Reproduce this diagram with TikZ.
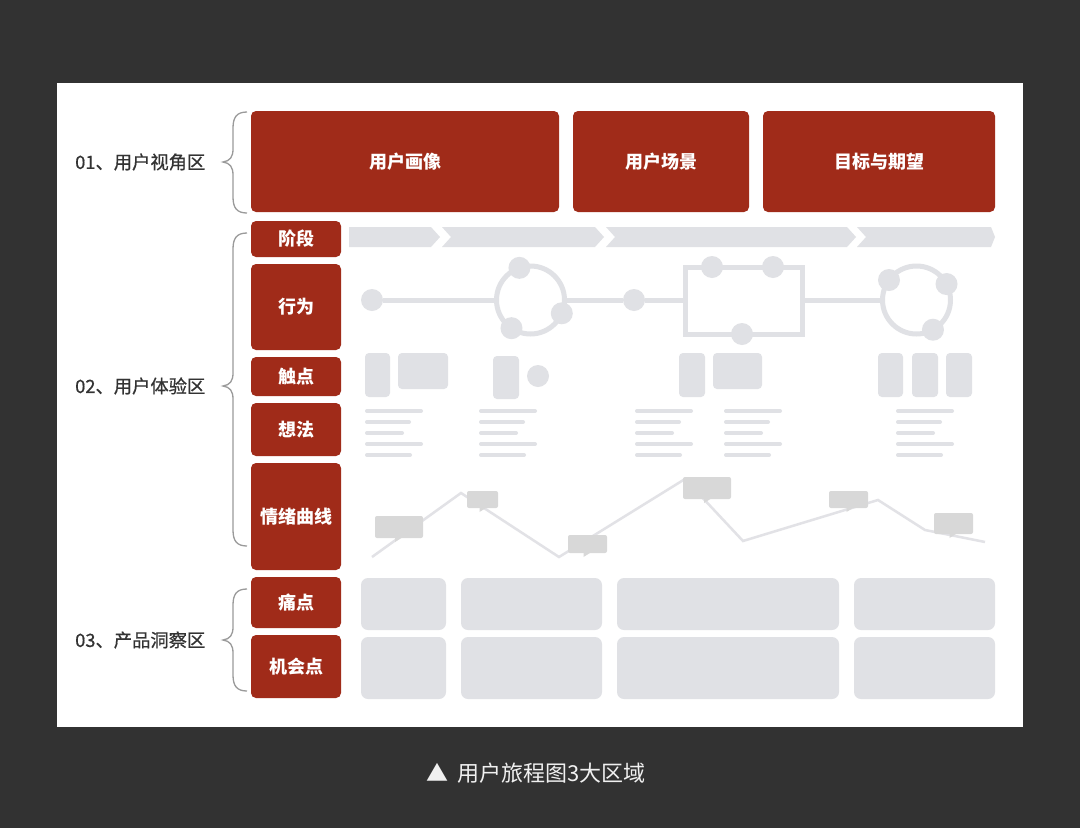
\documentclass[tikz,border=0pt]{standalone}
\usepackage{fontspec}
\setmainfont{Noto Sans CJK SC}
\usepackage{xcolor}
\usepackage{tikz}
\usetikzlibrary{shapes.geometric, arrows}
\definecolor{jbg}{HTML}{323232}
\definecolor{jred}{HTML}{A02B19}
\definecolor{jgray}{HTML}{E0E1E5}
\definecolor{jbubble}{HTML}{D8D8D8}
\definecolor{jcurve}{HTML}{E2E2E6}
\definecolor{jtext}{HTML}{333333}
\definecolor{jbrace}{HTML}{9A9A9A}
\definecolor{jcap}{HTML}{F0F0F0}
\tikzstyle{redbox} = [rectangle, rounded corners=5pt, fill=jred, text=white, inner sep=0pt, font=\bfseries\fontsize{18}{20}\selectfont]
\tikzstyle{graybox} = [rectangle, rounded corners=7pt, fill=jgray, inner sep=0pt]
\tikzstyle{card} = [rectangle, rounded corners=4pt, fill=jgray, inner sep=0pt]
\tikzstyle{zone} = [anchor=west, inner sep=0pt, text=jtext, font=\fontsize{18.3}{20}\selectfont\addfontfeature{FakeBold=0.7}]
\tikzstyle{zonebrace} = [draw=jbrace, line width=1.3pt]
\tikzstyle{track} = [draw=jgray, line width=5pt]
\tikzstyle{ring} = [circle, draw=jgray, line width=5pt, minimum size=68pt, outer sep=0pt, inner sep=0pt]
\tikzstyle{touchdot} = [circle, fill=jgray, minimum size=22pt, inner sep=0pt]
\tikzstyle{memo} = [draw=jgray, line width=4pt, line cap=round]
\tikzstyle{bubble} = [rectangle, rounded corners=2pt, fill=jbubble, inner sep=0pt]
\tikzstyle{mood} = [draw=jcurve, line width=2.5pt]
\tikzstyle{phase} = [fill=jgray]
% curly brace: top, tip, bottom
\newcommand{\zonebrace}[3]{
  \draw[zonebrace] (247,#1) .. controls (237,#1) and (233,#1+5) .. (233,#1+16)
    -- (233,#2-13) .. controls (233,#2-5) and (230,#2-1) .. (223,#2)
    .. controls (230,#2+1) and (233,#2+5) .. (233,#2+13)
    -- (233,#3-16) .. controls (233,#3-5) and (237,#3) .. (247,#3);
}

\begin{document}
\begin{tikzpicture}[x=1pt, y=-1pt]
        \fill[jbg] (0,0) rectangle (1080,828);
        \useasboundingbox (0,0) rectangle (1080,828);
        \fill[white] (57,83) rectangle (1023,727);

        % top row
        \node (persona) [redbox, minimum width=308pt, minimum height=101pt] at (405,161.5) {用户画像};
        \node (scene) [redbox, minimum width=176pt, minimum height=101pt] at (661,161.5) {用户场景};
        \node (goal) [redbox, minimum width=232pt, minimum height=101pt] at (879,161.5) {目标与期望};

        % row headers
        \node (stage) [redbox, minimum width=90pt, minimum height=36pt] at (296,239) {阶段};
        \node (action) [redbox, minimum width=90pt, minimum height=86pt] at (296,307) {行为};
        \node (touch) [redbox, minimum width=90pt, minimum height=39pt] at (296,376.5) {触点};
        \node (thought) [redbox, minimum width=90pt, minimum height=53pt] at (296,429.5) {想法};
        \node (emotion) [redbox, minimum width=90pt, minimum height=107pt] at (296,516.5) {情绪曲线};
        \node (pain) [redbox, minimum width=90pt, minimum height=51pt] at (296,602.5) {痛点};
        \node (chance) [redbox, minimum width=90pt, minimum height=63pt] at (296,666.5) {机会点};

        % zones
        \node (zoneA) [zone] at (75,162) {01、用户视角区};
        \node (zoneB) [zone] at (75,386) {02、用户体验区};
        \node (zoneC) [zone] at (75,640) {03、产品洞察区};
        \zonebrace{112}{162}{213}
        \zonebrace{233}{386}{546}
        \zonebrace{589}{640}{691}

        % stages
        \fill[phase] (349,227) -- (431,227) -- (440,237) -- (431,247) -- (349,247) -- cycle;
        \fill[phase] (442,227) -- (595,227) -- (604,237) -- (595,247) -- (442,247) -- (451,237) -- cycle;
        \fill[phase] (606,227) -- (847,227) -- (856,237) -- (847,247) -- (606,247) -- (615,237) -- cycle;
        \fill[phase] (857,227) -- (991,227) -- (995,237) -- (991,247) -- (857,247) -- (866,237) -- cycle;

        % actions
        \node (ring1) [ring] at (530.5,300) {};
        \node (ring2) [ring] at (916.5,300) {};
        \node (loop) [rectangle, draw=jgray, line width=5pt, outer sep=0pt, minimum width=117pt, minimum height=67pt] at (744,300.5) {};
        \node (start) [touchdot] at (372,300) {};
        \node (mid) [touchdot] at (634,300) {};
        \draw[track] (start) -- (ring1.west);
        \draw[track] (ring1.east) -- (mid) -- (mid -| loop.west);
        \draw[track] (loop.east |- ring2.west) -- (ring2.west);
        \node (r1a) [touchdot] at (ring1.109) {};
        \node (r1b) [touchdot] at (ring1.-23) {};
        \node (r1c) [touchdot] at (ring1.236) {};
        \node (la) [touchdot] at (712,267) {};
        \node (lb) [touchdot] at (773,267) {};
        \node (lc) [touchdot] at (742,334) {};
        \node (r2a) [touchdot] at (ring2.144) {};
        \node (r2b) [touchdot] at (ring2.28) {};
        \node (r2c) [touchdot] at (ring2.-61) {};

        % touchpoints
        \node (t1) [card, minimum width=25pt, minimum height=44pt] at (377.5,375) {};
        \node (t2) [card, minimum width=50pt, minimum height=36pt] at (423,371) {};
        \node (t3) [card, minimum width=26pt, minimum height=43pt] at (506,377.5) {};
        \node (t4) [touchdot] at (538,376) {};
        \node (t5) [card, minimum width=26pt, minimum height=44pt] at (692,375) {};
        \node (t6) [card, minimum width=49pt, minimum height=36pt] at (737.5,371) {};
        \node (t7) [card, minimum width=25pt, minimum height=44pt] at (890.5,375) {};
        \node (t8) [card, minimum width=26pt, minimum height=44pt] at (925,375) {};
        \node (t9) [card, minimum width=26pt, minimum height=44pt] at (959,375) {};

        % thoughts
        \foreach \x in {365,479,635,724,896}{
            \draw[memo] (\x+2,411) -- (\x+56,411);
            \draw[memo] (\x+2,422) -- (\x+44,422);
            \draw[memo] (\x+2,433) -- (\x+37,433);
            \draw[memo] (\x+2,444) -- (\x+56,444);
            \draw[memo] (\x+2,455) -- (\x+45,455);
        }

        % emotion curve
        \draw[mood] (372,557) -- (461,493) -- (559,557) -- (685,479) -- (743,541) -- (878,500) -- (925,530) -- (985,542);
        \foreach \cx/\cy/\w/\h/\t [count=\i] in {399/527/48/22/-4, 482.5/499.5/31/17/-3, 587.5/544/39/18/-4, 707/488/48/22/-3, 848.5/499.5/39/17/-2, 953.5/523.5/39/21/-4}{
            \node (b\i) [bubble, minimum width=\w pt, minimum height=\h pt] at (\cx,\cy) {};
            \fill[jbubble] (\cx+\t,\cy+\h/2-1) -- ++(8,0) -- ++(-8,5) -- cycle;
        }

        % pains and chances
        \node (p1) [graybox, minimum width=85pt, minimum height=52pt] at (403.5,604) {};
        \node (p2) [graybox, minimum width=141pt, minimum height=52pt] at (531.5,604) {};
        \node (p3) [graybox, minimum width=222pt, minimum height=52pt] at (728,604) {};
        \node (p4) [graybox, minimum width=141pt, minimum height=52pt] at (924.5,604) {};
        \node (c1) [graybox, minimum width=85pt, minimum height=62pt] at (403.5,668) {};
        \node (c2) [graybox, minimum width=141pt, minimum height=62pt] at (531.5,668) {};
        \node (c3) [graybox, minimum width=222pt, minimum height=62pt] at (728,668) {};
        \node (c4) [graybox, minimum width=141pt, minimum height=62pt] at (924.5,668) {};

        \node (caption) [text=jcap, font=\fontsize{22}{24}\selectfont] at (536,773) {▲\hspace{0.4em}用户旅程图3大区域};
    \end{tikzpicture}
\end{document}
